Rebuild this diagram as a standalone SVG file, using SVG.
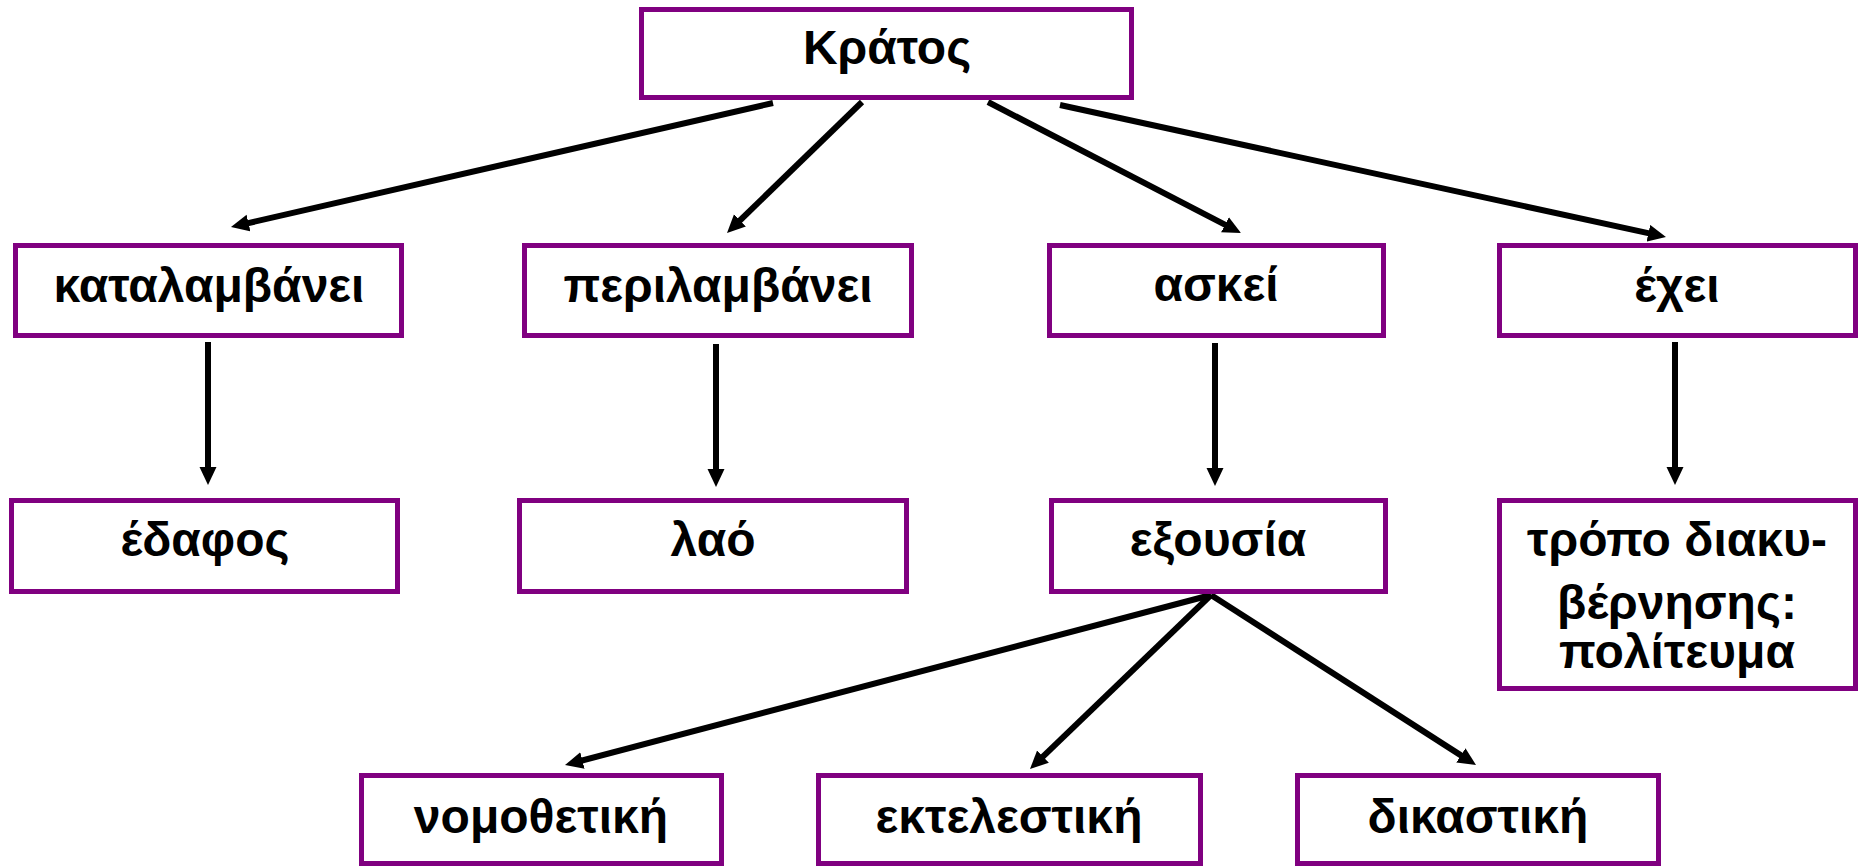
<svg xmlns="http://www.w3.org/2000/svg" width="1858" height="867" viewBox="0 0 1858 867">
<defs>
<style>
.box{fill:#fff;stroke:#800080;stroke-width:5}
.lbl{font-family:"Liberation Sans",Arial,sans-serif;font-weight:bold;font-size:48px;fill:#000;text-anchor:middle}
.edge{stroke:#000;stroke-width:6;fill:none;marker-end:url(#ah)}
</style>
<marker id="ah" markerUnits="userSpaceOnUse" markerWidth="18" markerHeight="18" viewBox="0 0 18 18" refX="8" refY="8.5" orient="auto">
<path d="M0,0 L18,8.5 L0,17 z" fill="#000"/>
</marker>
</defs>
<rect width="1858" height="867" fill="#fff"/>
<g id="connectors">
<line class="edge" x1="773" y1="103" x2="240.7" y2="224.8"/>
<line class="edge" x1="862" y1="102" x2="734.2" y2="226"/>
<line class="edge" x1="988" y1="102" x2="1232.1" y2="228.4"/>
<line class="edge" x1="1060" y1="105" x2="1656.2" y2="234.9"/>
<line class="edge" x1="208" y1="342" x2="208" y2="475"/>
<line class="edge" x1="716" y1="344" x2="716" y2="477"/>
<line class="edge" x1="1215" y1="343" x2="1215" y2="476"/>
<line class="edge" x1="1675" y1="342" x2="1675" y2="475"/>
<line class="edge" x1="1211" y1="595" x2="574.7" y2="762.5"/>
<line class="edge" x1="1211" y1="595" x2="1037.2" y2="762.1"/>
<line class="edge" x1="1211" y1="595" x2="1467.6" y2="759.6"/>
</g>
<g id="kratos"><rect class="box" x="641.5" y="9.5" width="490" height="88"/><text class="lbl" x="887" y="64">Κράτος</text></g>
<g id="katalamvanei"><rect class="box" x="15.5" y="245.5" width="386" height="90"/><text class="lbl" x="209" y="302">καταλαμβάνει</text></g>
<g id="perilamvanei"><rect class="box" x="524.5" y="245.5" width="387" height="90"/><text class="lbl" x="718" y="302">περιλαμβάνει</text></g>
<g id="askei"><rect class="box" x="1049.5" y="245.5" width="334" height="90"/><text class="lbl" x="1216" y="301">ασκεί</text></g>
<g id="echei"><rect class="box" x="1499.5" y="245.5" width="356" height="90"/><text class="lbl" x="1677" y="302">έχει</text></g>
<g id="edafos"><rect class="box" x="11.5" y="500.5" width="386" height="91"/><text class="lbl" x="205" y="556">έδαφος</text></g>
<g id="lao"><rect class="box" x="519.5" y="500.5" width="387" height="91"/><text class="lbl" x="713" y="556">λαό</text></g>
<g id="exousia"><rect class="box" x="1051.5" y="500.5" width="334" height="91"/><text class="lbl" x="1218" y="556">εξουσία</text></g>
<g id="politeuma"><rect class="box" x="1499.5" y="500.5" width="356" height="188"/><text class="lbl"><tspan x="1677" y="556">τρόπο διακυ-</tspan><tspan x="1677" y="619">βέρνησης:</tspan><tspan x="1677" y="668">πολίτευμα</tspan></text></g>
<g id="nomothetiki"><rect class="box" x="361.5" y="775.5" width="360" height="88"/><text class="lbl" x="541" y="833">νομοθετική</text></g>
<g id="ektelestiki"><rect class="box" x="818.5" y="775.5" width="382" height="88"/><text class="lbl" x="1009" y="833">εκτελεστική</text></g>
<g id="dikastiki"><rect class="box" x="1297.5" y="775.5" width="361" height="88"/><text class="lbl" x="1478" y="833">δικαστική</text></g>
</svg>
